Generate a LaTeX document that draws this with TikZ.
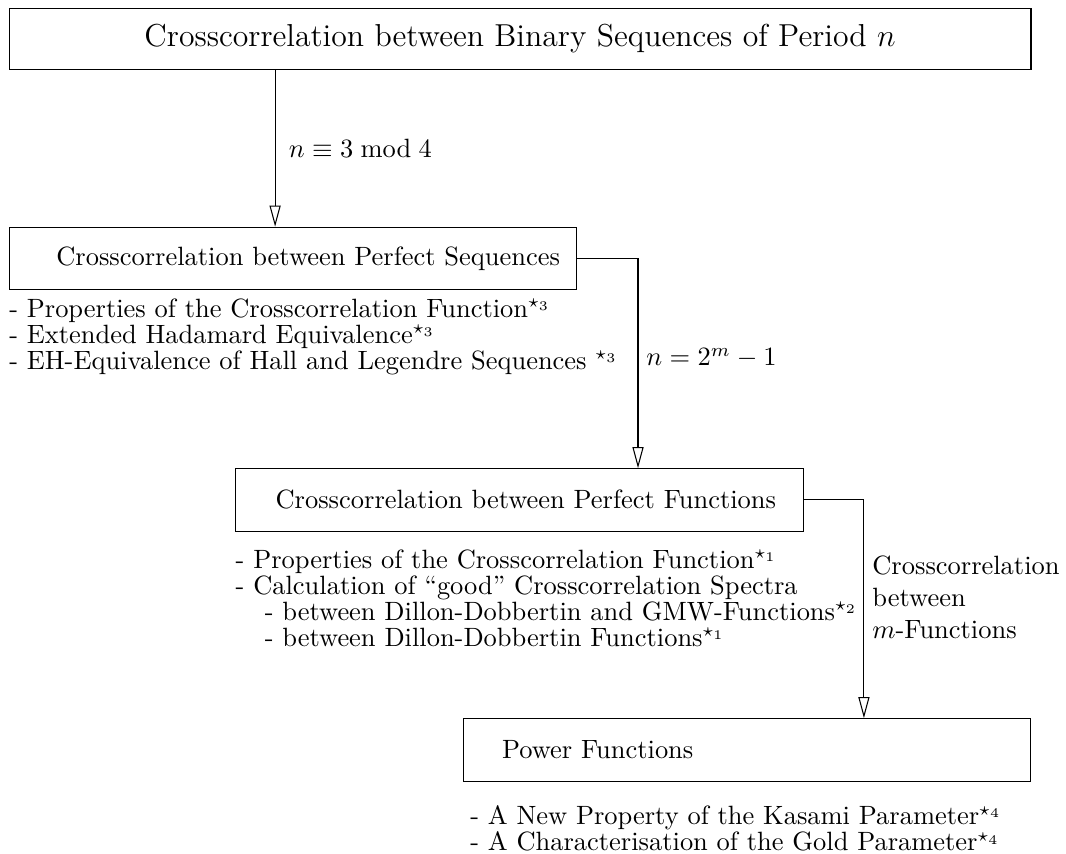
\documentclass[tikz,border=0pt]{standalone}
\usepackage{amsmath}
\usepackage{amssymb}
\usepackage{tikz}
\usetikzlibrary{positioning,arrows.meta}

\begin{document}
\begin{tikzpicture}[x=1pt,y=-1pt]
\tikzstyle{every node}+=[inner sep=0pt]
\tikzstyle{stage}=[draw=black, rectangle, text width=214.6pt, minimum height=23.6pt, align=left]
\tikzstyle{items}=[align=left, font=\linespread{0.82}\selectfont]
\tikzstyle{flow}=[black, -{Triangle[open,length=8pt,width=4.2pt]}]
\useasboundingbox (0,0) rectangle (403,322.5);
% the four stages
\node [draw=black, minimum width=386.3pt, minimum height=23.1pt, font=\large] (binseq) at (196.6,14.6) {Crosscorrelation between Binary Sequences of Period $n$};
\node [stage] (perfseq) at (110.8,97.7) {\hspace*{17.8pt}Crosscorrelation between Perfect Sequences};
\node [stage] (perffun) at (196.4,189.0) {\hspace*{15.1pt}Crosscorrelation between Perfect Functions};
\node [stage] (power) at (282.4,283.5) {\hspace*{14.7pt}Power Functions};
% results below each stage
\node [items, below right=3pt and 0pt of perfseq.south west] (seqnotes) {- Properties of the Crosscorrelation Function$^{\star_3}$\\- Extended Hadamard Equivalence$^{\star_3}$\\- EH-Equivalence of Hall and Legendre Sequences $^{\star_3}$};
\node [items, below right=6.5pt and 0pt of perffun.south west] (funnotes) {- Properties of the Crosscorrelation Function$^{\star_1}$\\- Calculation of ``good'' Crosscorrelation Spectra\\\hspace*{11pt}- between Dillon-Dobbertin and GMW-Functions$^{\star_2}$\\\hspace*{11pt}- between Dillon-Dobbertin Functions$^{\star_1}$};
\node [items, below right=9pt and 2.7pt of power.south west] (pownotes) {- A New Property of the Kasami Parameter$^{\star_4}$\\- A Characterisation of the Gold Parameter$^{\star_4}$};
% connections
\draw [flow] ([xshift=-6.8pt]perfseq.north |- binseq.south) -- ([xshift=-6.8pt]perfseq.north) node [midway, right=5pt] {$n \equiv 3 \bmod 4$};
\draw [flow] (perfseq.east) -| ([xshift=44.8pt]perffun.north) node [pos=0.75, right=3pt, yshift=2pt] {$n = 2^m - 1$};
\draw [flow] (perffun.east) -| ([xshift=44.2pt]power.north) node [pos=0.75, right=3pt, yshift=4.5pt, align=left] {Crosscorrelation\\between\\$m$-Functions};
\end{tikzpicture}
\end{document}
